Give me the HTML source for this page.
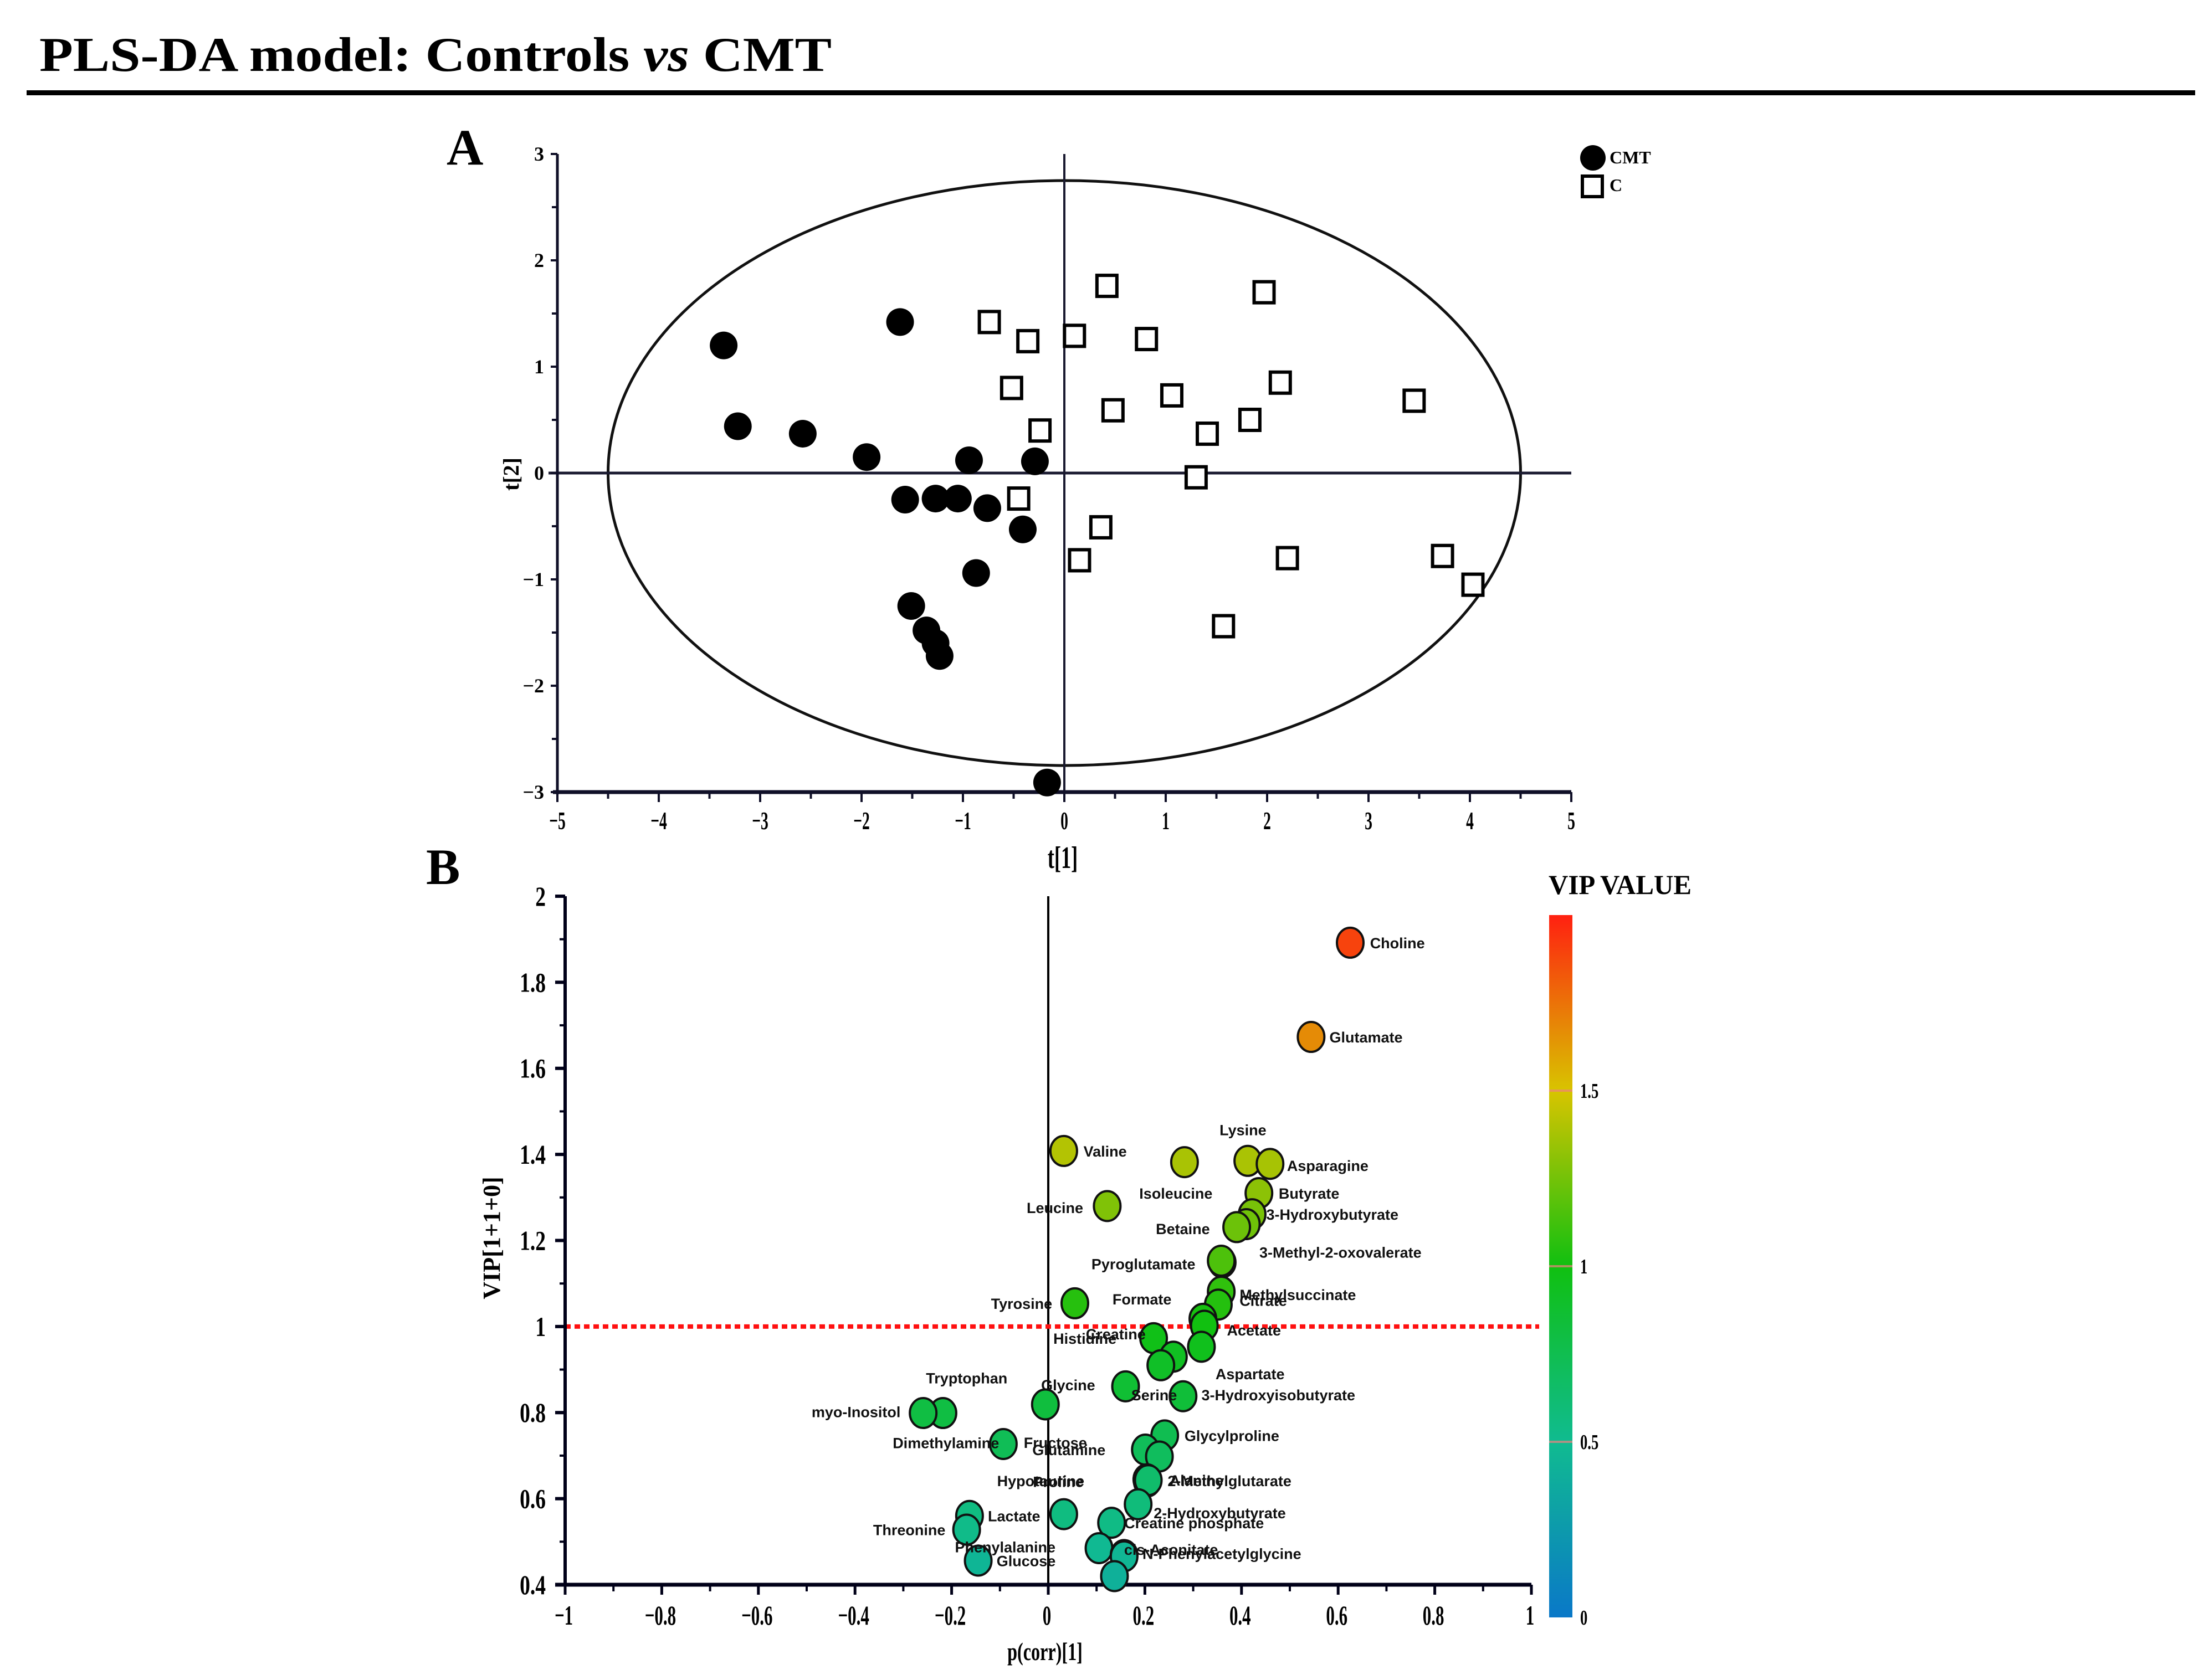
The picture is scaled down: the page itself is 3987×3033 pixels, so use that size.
<!DOCTYPE html>
<html><head><meta charset="utf-8">
<style>
html,body{margin:0;padding:0;background:#fff;}
svg{display:block;}
.serif{font-family:"Liberation Serif",serif;}
.sans{font-family:"Liberation Sans",sans-serif;}
</style></head>
<body>
<svg id="fig" width="3987" height="3033" viewBox="0 0 3987 3033" xmlns="http://www.w3.org/2000/svg">
<defs>
<linearGradient id="vipgrad" x1="0" y1="1" x2="0" y2="0">
<stop offset="0" stop-color="#0a78c8"/>
<stop offset="0.25" stop-color="#10bb90"/>
<stop offset="0.5" stop-color="#10c010"/>
<stop offset="0.75" stop-color="#d8c400"/>
<stop offset="1" stop-color="#ff2010"/>
</linearGradient>
</defs>
<text x="71" y="128" class="serif" font-weight="bold" font-size="88" textLength="1430" lengthAdjust="spacingAndGlyphs">PLS-DA model: Controls <tspan font-style="italic">vs</tspan> CMT</text>
<rect x="48" y="163" width="3914" height="9" fill="#000"/>
<text x="806" y="297" class="serif" font-weight="bold" font-size="92">A</text>
<text x="769" y="1596" class="serif" font-weight="bold" font-size="92">B</text>
<g id="panelA"></g>
<g id="panelB"></g>
</svg>
<script>
// ---------- Panel A data ----------
const cmtT1 = [-3.36,-3.22,-2.58,-1.95,-1.62,-0.94,-0.29,-1.57,-1.27,-1.05,-0.76,-0.41,-0.87,-1.51,-1.36,-1.27,-1.23,-0.17];
const cmtT2 = [1.2,0.44,0.37,0.15,1.42,0.12,0.11,-0.25,-0.24,-0.24,-0.33,-0.53,-0.94,-1.25,-1.48,-1.6,-1.72,-2.91];
const ctlT1 = [-0.74,-0.36,0.42,0.1,0.81,1.97,-0.52,-0.24,0.48,1.06,1.41,1.83,2.13,3.45,1.3,-0.45,0.36,0.15,2.2,3.73,4.03,1.57];
const ctlT2 = [1.42,1.24,1.76,1.29,1.26,1.7,0.8,0.4,0.59,0.73,0.37,0.5,0.85,0.68,-0.04,-0.24,-0.51,-0.82,-0.8,-0.78,-1.05,-1.44];
const xTicksA = [-5,-4,-3,-2,-1,0,1,2,3,4,5];
const yTicksA = [-3,-2,-1,0,1,2,3];
const ellipseA = [4.5, 2.75];

// ---------- Panel B data ----------
const metNames = ["Choline","Glutamate","Valine","Isoleucine","Lysine","Asparagine","Leucine","Butyrate","3-Hydroxybutyrate","","Betaine","Pyroglutamate","3-Methyl-2-oxovalerate","Methylsuccinate","Citrate","Tyrosine","Formate","Acetate","Creatine","Histidine","Aspartate","","Serine","3-Hydroxyisobutyrate","Glycine","Tryptophan","myo-Inositol","Dimethylamine","Glycylproline","Glutamine","Fructose","2-Methylglutarate","Hypotaurine","Proline","Alanine","2-Hydroxybutyrate","Creatine phosphate","Lactate","","Threonine","Phenylalanine","cis-Aconitate","N-Phenylacetylglycine","Glucose",""];
const pcorr = [0.625,0.544,0.032,0.282,0.413,0.459,0.122,0.436,0.422,0.410,0.390,0.360,0.358,0.358,0.352,0.055,0.320,0.323,0.218,0.259,0.317,0.233,0.160,0.279,-0.006,-0.218,-0.259,-0.093,0.241,0.201,0.230,0.206,0.204,0.205,0.207,0.186,0.131,-0.163,0.032,-0.169,0.105,0.157,0.157,-0.145,0.137];
const vip = [1.892,1.673,1.408,1.382,1.385,1.378,1.280,1.310,1.261,1.238,1.231,1.149,1.153,1.081,1.051,1.054,1.018,1.002,0.973,0.930,0.953,0.910,0.861,0.838,0.819,0.799,0.799,0.727,0.747,0.714,0.698,0.642,0.645,0.640,0.643,0.587,0.544,0.560,0.564,0.528,0.485,0.469,0.466,0.456,0.420];
const xTicksB = [-1,-0.8,-0.6,-0.4,-0.2,0,0.2,0.4,0.6,0.8,1];
const yTicksB = [0.4,0.6,0.8,1,1.2,1.4,1.6,1.8,2];
const cbarTicks = [0,0.5,1,1.5];
const vipThreshold = [1];
// label layout (display-unit offsets dx, dy and anchor)
const lblDx = [14,13,14,-32,-20,12,-17,14,10,0,-19,-19,27,13,15,-16,-64,16,-48,-85,10,0,4,13,-3,-12,-16,-3,14,-80,-96,14,-106,-81,15,11,9,13,0,-15,-102,0,13,13,0];
const lblDy = [0,0,0,22,-22,1,1,0,0,0,1,1,-6,2,-3,0,-14,3,-3,-13,19,0,6,-1,-14,-25,-1,-1,0,0,-10,0,1,0,0,6,0,0,0,0,-1,-4,-2,0,0];
const lblEnd = [0,0,0,0,0,0,1,0,0,0,1,1,0,0,0,1,0,0,0,0,0,0,0,0,0,0,1,1,0,0,0,0,0,0,0,0,0,0,0,1,0,0,0,0,0];

const NS="http://www.w3.org/2000/svg";
function mk(parent,tag,attrs){const e=document.createElementNS(NS,tag);for(const k in attrs)e.setAttribute(k,attrs[k]);parent.appendChild(e);return e;}

// ---------- Panel A ----------
const A=document.getElementById('panelA');
const ax={x0:1006,x1:2836,y0:1430,y1:278,xmin:-5,xmax:5,ymin:-3,ymax:3};
const sxA=v=>ax.x0+(v-ax.xmin)/(ax.xmax-ax.xmin)*(ax.x1-ax.x0);
const syA=v=>ax.y0-(v-ax.ymin)/(ax.ymax-ax.ymin)*(ax.y0-ax.y1);
let e;
e=mk(A,'ellipse',{cx:sxA(0),cy:syA(0),rx:sxA(ellipseA[0])-sxA(0),ry:syA(0)-syA(ellipseA[1]),fill:'none',stroke:'#111',"stroke-width":5});


e=mk(A,'line',{x1:990,x2:sxA(5),y1:syA(0),y2:syA(0),stroke:'#1a1a30',"stroke-width":5});


e=mk(A,'line',{x1:sxA(0),x2:sxA(0),y1:syA(3),y2:syA(-3),stroke:'#1a1a30',"stroke-width":4});


e=mk(A,'line',{x1:ax.x0,x2:ax.x0,y1:ax.y1,y2:ax.y0+4,stroke:'#101028',"stroke-width":5});


e=mk(A,'line',{x1:ax.x0-8,x2:ax.x1,y1:ax.y0,y2:ax.y0,stroke:'#101028',"stroke-width":7});


xTicksA.forEach((v,i)=>{
  const x=sxA(v);
  mk(A,'line',{x1:x,x2:x,y1:ax.y0,y2:ax.y0+18,stroke:'#101028',"stroke-width":4});
  if(i<xTicksA.length-1){const xm=sxA(v+0.5);mk(A,'line',{x1:xm,x2:xm,y1:ax.y0,y2:ax.y0+12,stroke:'#101028',"stroke-width":4});}
  const t=mk(A,'text',{x:x,y:1497,"text-anchor":"middle",class:"serif","font-size":46,"font-weight":"bold",transform:`translate(${x},0) scale(0.6,1) translate(${-x},0)`});
  t.textContent=(v<0?'\u2212':'')+Math.abs(v);
  
  
});
yTicksA.forEach((v,i)=>{
  const y=syA(v);
  mk(A,'line',{x1:ax.x0-12,x2:ax.x0,y1:y,y2:y,stroke:'#101028',"stroke-width":4});
  if(i<yTicksA.length-1){const ym=syA(v+0.5);mk(A,'line',{x1:ax.x0-10,x2:ax.x0,y1:ym,y2:ym,stroke:'#101028',"stroke-width":4});}
  const t=mk(A,'text',{x:982,y:y+12,"text-anchor":"end",class:"serif","font-size":36,"font-weight":"bold"});
  t.textContent=(v<0?'\u2212':'')+Math.abs(v);
  
  
});
e=mk(A,'text',{x:1918,y:1567,"text-anchor":"middle",class:"serif","font-size":56,"font-weight":"bold",transform:"translate(1918,0) scale(0.65,1) translate(-1918,0)"});
e.textContent='t[1]';


e=mk(A,'text',{x:0,y:0,"text-anchor":"middle",class:"serif","font-size":40,"font-weight":"bold",transform:"translate(936,856) rotate(-90)"});
e.textContent='t[2]';


cmtT1.forEach((v,i)=>{
  const c=mk(A,'circle',{cx:sxA(v),cy:syA(cmtT2[i]),r:25,fill:'#000'});
  
  
});
ctlT1.forEach((v,i)=>{
  const c=mk(A,'rect',{x:sxA(v)-18,y:syA(ctlT2[i])-19,width:36,height:38,fill:'#fff',stroke:'#000',"stroke-width":6});
  
  
});
e=mk(A,'circle',{cx:2875,cy:285,r:23,fill:'#000'});


e=mk(A,'text',{x:2905,y:295,class:"serif","font-size":32,"font-weight":"bold"});e.textContent='CMT';


e=mk(A,'rect',{x:2856,y:318,width:36,height:37,fill:'#fff',stroke:'#000',"stroke-width":6});


e=mk(A,'text',{x:2905,y:345,class:"serif","font-size":32,"font-weight":"bold"});e.textContent='C';



// ---------- Panel B ----------
const B=document.getElementById('panelB');
const bx={x0:1020,x1:2764,y0:2861,y1:1618,xmin:-1,xmax:1,ymin:0.4,ymax:2};
const sxB=v=>bx.x0+(v-bx.xmin)/(bx.xmax-bx.xmin)*(bx.x1-bx.x0);
const syB=v=>bx.y0-(v-bx.ymin)/(bx.ymax-bx.ymin)*(bx.y0-bx.y1);
const S=2.55;
function vipColor(v){
  const stops=[[0,[10,120,200]],[0.5,[16,187,144]],[1,[16,192,16]],[1.5,[216,196,0]],[2,[255,32,16]]];
  v=Math.max(0,Math.min(2,v));
  for(let i=0;i<stops.length-1;i++){const a=stops[i],b=stops[i+1];if(v<=b[0]){const t=(v-a[0])/(b[0]-a[0]);const c=a[1].map((q,k)=>Math.round(q+(b[1][k]-q)*t));return `rgb(${c.join(',')})`;}}
  return 'rgb(255,32,16)';
}
e=mk(B,'line',{x1:sxB(0),x2:sxB(0),y1:bx.y1,y2:bx.y0,stroke:'#000',"stroke-width":4});


e=mk(B,'line',{x1:bx.x0,x2:2778,y1:syB(vipThreshold[0]),y2:syB(vipThreshold[0]),stroke:'#ff1010',"stroke-width":8,"stroke-dasharray":"10 7"});


e=mk(B,'line',{x1:bx.x0,x2:bx.x0,y1:bx.y1,y2:bx.y0,stroke:'#000018',"stroke-width":6});


e=mk(B,'line',{x1:bx.x0-18,x2:bx.x1,y1:bx.y0,y2:bx.y0,stroke:'#000018',"stroke-width":7});


xTicksB.forEach((v,i)=>{
  const x=sxB(v);
  mk(B,'line',{x1:x,x2:x,y1:bx.y0,y2:bx.y0+18,stroke:'#000018',"stroke-width":5});
  if(i<xTicksB.length-1){const xm=sxB(v+0.1);mk(B,'line',{x1:xm,x2:xm,y1:bx.y0,y2:bx.y0+12,stroke:'#000018',"stroke-width":4});}
  const t=mk(B,'text',{x:x-4,y:2933,"text-anchor":"middle",class:"serif","font-size":50,"font-weight":"bold",transform:`translate(${x},0) scale(0.62,1) translate(${-x},0)`});
  t.textContent=(v<0?'\u2212':'')+String(Math.abs(Math.round(v*10)/10));
  
  
});
yTicksB.forEach((v,i)=>{
  const y=syB(v);
  mk(B,'line',{x1:bx.x0-18,x2:bx.x0,y1:y,y2:y,stroke:'#000018',"stroke-width":6});
  if(i<yTicksB.length-1){const ym=syB(v+0.1);mk(B,'line',{x1:bx.x0-10,x2:bx.x0,y1:ym,y2:ym,stroke:'#000018',"stroke-width":4});}
  const t=mk(B,'text',{x:985,y:y+17,"text-anchor":"end",class:"serif","font-size":50,"font-weight":"bold",transform:`translate(985,0) scale(0.75,1) translate(-985,0)`});
  t.textContent=String(Math.round(v*10)/10);
  
  
});
e=mk(B,'text',{x:1886,y:2997,"text-anchor":"middle",class:"serif","font-size":46,"font-weight":"bold",transform:"translate(1886,0) scale(0.7,1) translate(-1886,0)"});
e.textContent='p(corr)[1]';


e=mk(B,'text',{x:0,y:0,"text-anchor":"middle",class:"serif","font-size":44,"font-weight":"bold",transform:"translate(902,2235) rotate(-90)"});
e.textContent='VIP[1+1+0]';


pcorr.forEach((v,i)=>{
  const cx=sxB(v), cy=syB(vip[i]);
  const c=mk(B,'ellipse',{cx:cx,cy:cy,rx:24,ry:27,fill:vipColor(vip[i]),stroke:'#111',"stroke-width":4});
  
  
});
pcorr.forEach((v,i)=>{
  if(!metNames[i])return;
  const cx=sxB(v), cy=syB(vip[i]);
  const t=mk(B,'text',{x:cx+lblDx[i]*S,y:cy+lblDy[i]*S+10,"text-anchor":lblEnd[i]?"end":"start",class:"sans","font-size":27,"font-weight":"bold",fill:"#111"});
  t.textContent=metNames[i];
  
  
});
// colorbar
const cb={x:2796,w:42,top:1652,bot:2920,min:0,max:2};
const syC=v=>cb.bot-(v-cb.min)/(cb.max-cb.min)*(cb.bot-cb.top);
e=mk(B,'rect',{x:cb.x,y:cb.top,width:cb.w,height:cb.bot-cb.top,fill:'url(#vipgrad)'});


cbarTicks.forEach(v=>{
  const y=syC(v);
  if(v>0)mk(B,'line',{x1:cb.x,x2:cb.x+cb.w,y1:y,y2:y,stroke:'#f08080',"stroke-width":4,opacity:0.7});
  const t=mk(B,'text',{x:2852,y:y+13,class:"serif","font-size":38,"font-weight":"bold",transform:`translate(2852,0) scale(0.7,1) translate(-2852,0)`});
  t.textContent=String(v);
  
  
});
e=mk(B,'text',{x:2795,y:1614,class:"serif","font-size":50,"font-weight":"bold",textLength:"258",lengthAdjust:"spacingAndGlyphs"});
e.textContent='VIP VALUE';


</script>
</body></html>
